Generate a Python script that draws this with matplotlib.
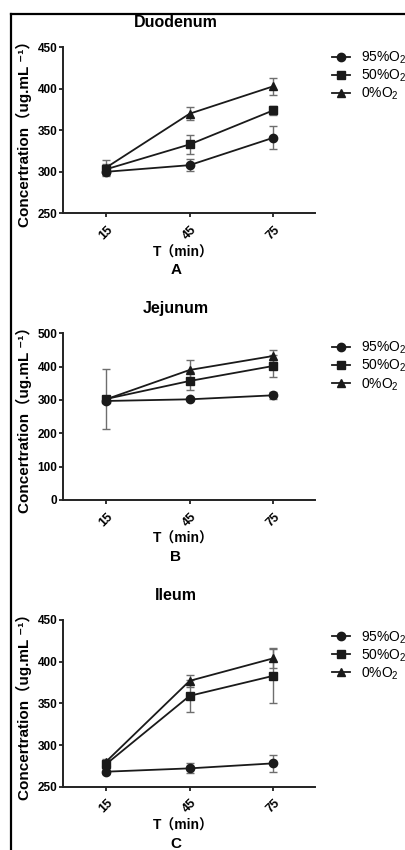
import matplotlib
matplotlib.use("Agg")
import matplotlib.pyplot as plt
from matplotlib.lines import Line2D

plt.rcParams['font.family'] = ['Liberation Sans', 'Noto Sans CJK SC', 'DejaVu Sans']
plt.rcParams['mathtext.fontset'] = 'custom'
plt.rcParams['mathtext.rm'] = 'Liberation Sans'
plt.rcParams['mathtext.bf'] = 'Liberation Sans:bold'

# data
times = ['15', '45', '75']
series_names = ['95%O$_\\mathregular{2}$', '50%O$_\\mathregular{2}$', '0%O$_\\mathregular{2}$']
markers = ['o', 's', '^']

duo_95 = [300, 308, 341]
duo_95_err = [5, 7, 14]
duo_50 = [303, 333, 374]
duo_50_err = [6, 11, 5]
duo_0 = [305, 370, 403]
duo_0_err = [9, 8, 10]

jej_95 = [297, 302, 314]
jej_95_err = [4, 3, 11]
jej_50 = [303, 357, 402]
jej_50_err = [91, 28, 33]
jej_0 = [302, 390, 432]
jej_0_err = [5, 30, 18]

ile_95 = [268, 272, 278]
ile_95_err = [3, 6, 10]
ile_50 = [277, 359, 383]
ile_50_err = [4, 19, 32]
ile_0 = [280, 377, 404]
ile_0_err = [3, 7, 12]

panels = [
    ('Duodenum', 'A', [duo_95, duo_50, duo_0], [duo_95_err, duo_50_err, duo_0_err], (250, 450), [250, 300, 350, 400, 450]),
    ('Jejunum', 'B', [jej_95, jej_50, jej_0], [jej_95_err, jej_50_err, jej_0_err], (0, 500), [0, 100, 200, 300, 400, 500]),
    ('Ileum', 'C', [ile_95, ile_50, ile_0], [ile_95_err, ile_50_err, ile_0_err], (250, 450), [250, 300, 350, 400, 450]),
]

W, H = 406, 850
fig = plt.figure(figsize=(W / 100, H / 100), dpi=100)

# axes boxes in pixels: left, top, right, bottom
boxes = [(63, 47.3, 315, 213.3), (63, 333.3, 315, 500), (63, 620, 315, 786.7)]
legend_y = [0.985, 0.96, 0.945]
line_col = '#1a1a1a'

for (title, letter, vals, errs, ylim, yticks), (l, t, r, b), ly in zip(panels, boxes, legend_y):
    ax = fig.add_axes([l / W, 1 - b / H, (r - l) / W, (b - t) / H])
    x = list(range(len(times)))
    handles = []
    for v, e, m in zip(vals, errs, markers):
        ms = 6 if m != '^' else 5.5
        ax.errorbar(x, v, yerr=e, color=line_col, ecolor='#6e6e6e', elinewidth=1.0,
                    capsize=3, capthick=1.0, lw=1.3, marker=m, markersize=ms)
        handles.append(Line2D([], [], color=line_col, lw=1.3, marker=m, markersize=ms))
    ax.set_xlim(-0.515, 2.5)
    ax.set_ylim(*ylim)
    ax.set_yticks(yticks)
    ax.set_xticks(x)
    ax.set_xticklabels(times, rotation=45, ha='center', va='top')
    for s in ['top', 'right']:
        ax.spines[s].set_visible(False)
    for s in ['left', 'bottom']:
        ax.spines[s].set_linewidth(1.4)
        ax.spines[s].set_color('#222222')
    ax.tick_params(axis='both', direction='out', length=3, width=1.3, color='#222222')
    ax.tick_params(axis='y', pad=1, labelsize=8.5)
    ax.tick_params(axis='x', pad=4.5, labelsize=9)
    for lab in ax.get_xticklabels() + ax.get_yticklabels():
        lab.set_fontweight('bold')

    ax.set_ylabel('Concertration（ug.mL ⁻¹）', fontsize=11, fontweight='bold')
    ax.yaxis.set_label_coords((32 - l) / (r - l), 0.5)

    hpx = b - t
    ax.text((176 - l) / (r - l), 1 + 25 / hpx, title, transform=ax.transAxes,
            ha='center', va='center', fontsize=11.5, fontweight='bold')
    ax.text((183 - l) / (r - l), -39 / hpx, 'T（min）', transform=ax.transAxes,
            ha='center', va='center', fontsize=10, fontweight='bold')
    ax.text((176 - l) / (r - l), -57 / hpx, letter, transform=ax.transAxes,
            ha='center', va='center', fontsize=11, fontweight='bold')

    ax.legend(handles, series_names, loc='upper left', bbox_to_anchor=((332 - l) / (r - l), ly),
              frameon=False, borderaxespad=0, borderpad=0, handlelength=1.3, handletextpad=0.8,
              labelspacing=0.12, fontsize=10)

# the frame visible at the left and top of the picture
fig.add_artist(Line2D([11 / W, 11 / W], [0, 1 - 14 / H], color='black', lw=1.6, transform=fig.transFigure))
fig.add_artist(Line2D([11 / W, 1], [1 - 14 / H, 1 - 14 / H], color='black', lw=1.6, transform=fig.transFigure))

fig.savefig('out.png', dpi=100, facecolor='white')
